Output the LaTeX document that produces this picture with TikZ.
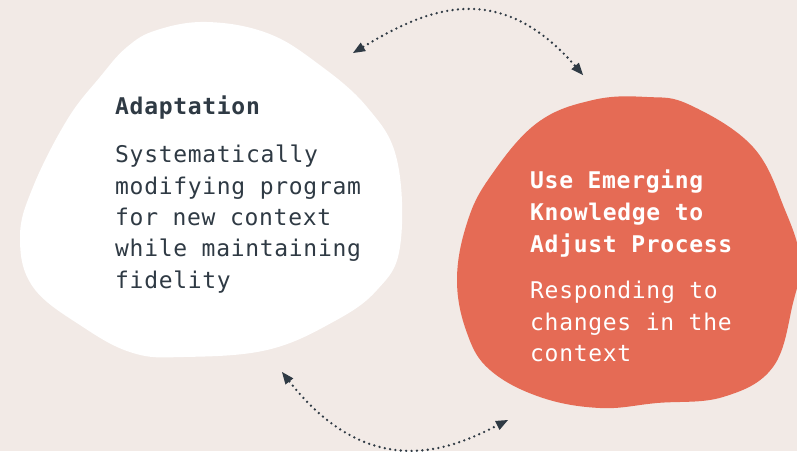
\documentclass[tikz,border=0pt]{standalone}
\usepackage{fontspec}
\newfontfamily\monofnt[LetterSpace=3]{DejaVu Sans Mono}
\usetikzlibrary{arrows.meta}
\definecolor{bg}{HTML}{F2EAE6}
\definecolor{coral}{HTML}{E56B55}
\definecolor{ink}{HTML}{2F3A44}
\begin{document}
\begin{tikzpicture}[x=1pt,y=-1pt,
  blobtext/.style={anchor=base west, inner sep=0pt, align=left},
  headfont/.style={font=\monofnt\bfseries\fontsize{23}{32}\selectfont},
  bodyfont/.style={font=\monofnt\fontsize{23}{31.4}\selectfont},
  dotarrow/.style={ink, line width=2.6pt, line cap=round, dash pattern=on 0pt off 5.4pt,
    {Triangle[length=12pt,width=10pt,line width=0pt]}-{Triangle[length=12pt,width=10pt,line width=0pt]}}]
\fill[bg] (0,0) rectangle (797,451);
\useasboundingbox (0,0) rectangle (797,451);
% white blob
\fill[white] plot[smooth cycle, tension=0.65] coordinates {
  (207,22) (267,33) (317,63) (367,107) (397,160) (400,247) (377,290) (333,322)
  (267,350) (183,357) (133,353) (83,327) (33,287) (20,237) (33,187) (67,120)
  (100,77) (127,47) (157,30)};
% coral blob
\fill[coral] plot[smooth cycle, tension=0.65] coordinates {
  (593,100) (647,97) (690,105) (753,147) (785,210) (800,260) (793,303) (773,367)
  (723,397) (657,403) (600,408) (540,397) (490,370) (467,333) (457,280) (467,223)
  (490,177) (537,123)};
% texts (base anchor = baseline of the last line)
\node[blobtext, headfont, text=ink] (adtitle) at (115,114.3) {Adaptation};
\node[blobtext, bodyfont, text=ink] (adbody) at (115,288.3) {Systematically\\modifying program\\for new context\\while maintaining\\fidelity};
\node[blobtext, headfont, text=white] (ustitle) at (530,252.3) {Use Emerging\\Knowledge to\\Adjust Process};
\node[blobtext, bodyfont, text=white] (usbody) at (530,361.7) {Responding to\\changes in the\\context};
% arrows
\coordinate (ta) at (353,53);
\coordinate (tb) at (583,75);
\coordinate (ba) at (282,372);
\coordinate (bb) at (508,420);
\draw[dotarrow] (ta) .. controls (425,9.7) and (497.7,-23.2) .. (tb);
\draw[dotarrow] (ba) .. controls (372.8,487.7) and (457.3,445.7) .. (bb);
\end{tikzpicture}
\end{document}
